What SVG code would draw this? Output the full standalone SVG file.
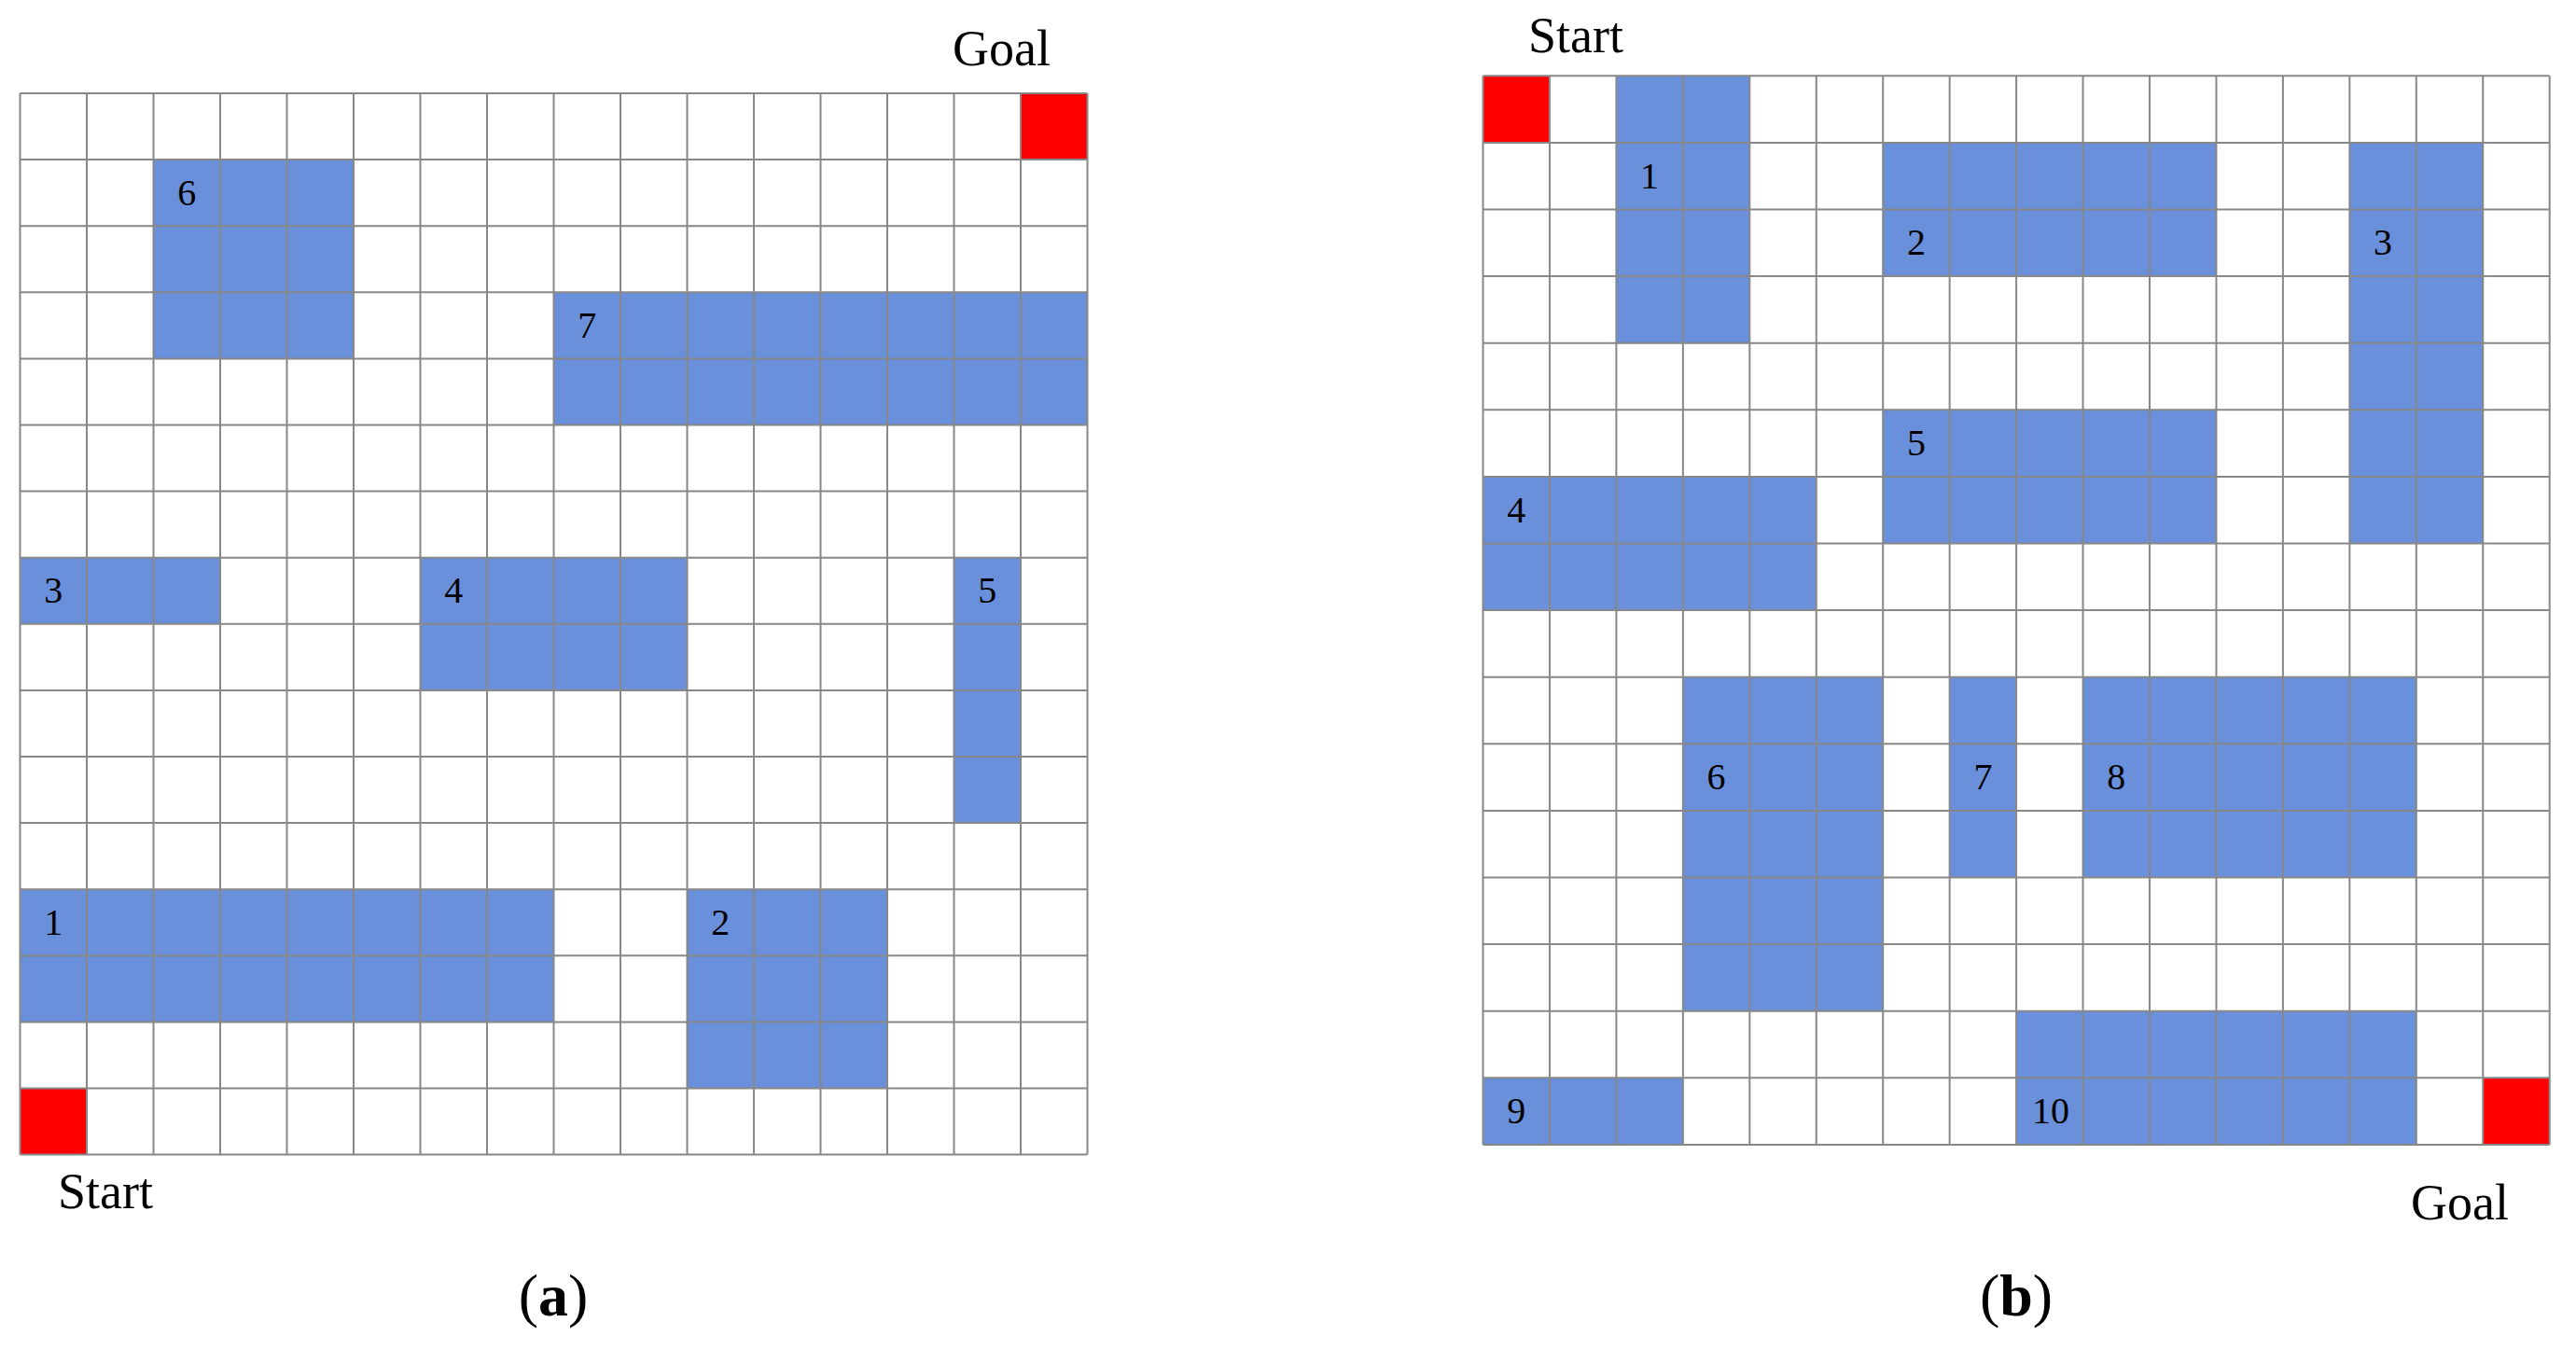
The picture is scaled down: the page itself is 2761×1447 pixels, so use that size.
<svg xmlns="http://www.w3.org/2000/svg" width="2761" height="1447" viewBox="0 0 2761 1447">
<style>
.obs{fill:#6A8FDB}
.red{fill:#FF0000}
.grid{fill:none;stroke:#888888;stroke-width:2}
.num{font-family:"Liberation Serif","Times New Roman",serif;font-size:40px;fill:#000;text-anchor:middle}
.lbl{font-family:"Liberation Serif","Times New Roman",serif;font-size:54px;fill:#000;text-anchor:middle}
.cap{font-family:"Liberation Serif","Times New Roman",serif;font-size:64px;fill:#000;text-anchor:middle}
</style>
<rect width="2761" height="1447" fill="#FFFFFF"/>

<g id="panel-a">
  <g id="a-goal"><rect class="red" x="1094" y="100" width="71.5" height="71.1"/></g>
  <g id="a-start"><rect class="red" x="21.5" y="1166.5" width="71.5" height="71.1"/></g>
  <g id="a-obs6"><rect class="obs" x="164.5" y="171.1" width="214.5" height="213.3"/></g>
  <g id="a-obs7"><rect class="obs" x="593.5" y="313.3" width="572" height="142.2"/></g>
  <g id="a-obs3"><rect class="obs" x="21.5" y="597.7" width="214.5" height="71.1"/></g>
  <g id="a-obs4"><rect class="obs" x="450.5" y="597.7" width="286" height="142.2"/></g>
  <g id="a-obs5"><rect class="obs" x="1022.5" y="597.7" width="71.5" height="284.4"/></g>
  <g id="a-obs1"><rect class="obs" x="21.5" y="953.2" width="572" height="142.2"/></g>
  <g id="a-obs2"><rect class="obs" x="736.5" y="953.2" width="214.5" height="213.3"/></g>
  <g id="a-grid">
    <path class="grid" d="M21.5 100V1237.6M93 100V1237.6M164.5 100V1237.6M236 100V1237.6M307.5 100V1237.6M379 100V1237.6M450.5 100V1237.6M522 100V1237.6M593.5 100V1237.6M665 100V1237.6M736.5 100V1237.6M808 100V1237.6M879.5 100V1237.6M951 100V1237.6M1022.5 100V1237.6M1094 100V1237.6M1165.5 100V1237.6"/>
    <path class="grid" d="M21.5 100H1165.5M21.5 171.1H1165.5M21.5 242.2H1165.5M21.5 313.3H1165.5M21.5 384.4H1165.5M21.5 455.5H1165.5M21.5 526.6H1165.5M21.5 597.7H1165.5M21.5 668.8H1165.5M21.5 739.9H1165.5M21.5 811H1165.5M21.5 882.1H1165.5M21.5 953.2H1165.5M21.5 1024.3H1165.5M21.5 1095.4H1165.5M21.5 1166.5H1165.5M21.5 1237.6H1165.5"/>
  </g>
  <g id="a-numbers">
    <text class="num" x="200.3" y="220">6</text>
    <text class="num" x="629.3" y="362">7</text>
    <text class="num" x="57.3" y="646">3</text>
    <text class="num" x="486.3" y="646">4</text>
    <text class="num" x="1058.3" y="646">5</text>
    <text class="num" x="57.3" y="1002">1</text>
    <text class="num" x="772.3" y="1002">2</text>
  </g>
  <g id="a-labels">
    <text class="lbl" x="1073.5" y="70">Goal</text>
    <text class="lbl" x="113" y="1295">Start</text>
    <text class="cap" x="593" y="1410">(<tspan font-weight="bold">a</tspan>)</text>
  </g>
</g>

<g id="panel-b">
  <g id="b-start"><rect class="red" x="1589.5" y="81.3" width="71.45" height="71.6"/></g>
  <g id="b-goal"><rect class="red" x="2661.25" y="1155.3" width="71.45" height="71.6"/></g>
  <g id="b-obs1"><rect class="obs" x="1732.4" y="81.3" width="142.9" height="286.4"/></g>
  <g id="b-obs2"><rect class="obs" x="2018.2" y="152.9" width="357.25" height="143.2"/></g>
  <g id="b-obs3"><rect class="obs" x="2518.35" y="152.9" width="142.9" height="429.6"/></g>
  <g id="b-obs5"><rect class="obs" x="2018.2" y="439.3" width="357.25" height="143.2"/></g>
  <g id="b-obs4"><rect class="obs" x="1589.5" y="510.9" width="357.25" height="143.2"/></g>
  <g id="b-obs6"><rect class="obs" x="1803.85" y="725.7" width="214.35" height="358"/></g>
  <g id="b-obs7"><rect class="obs" x="2089.65" y="725.7" width="71.45" height="214.8"/></g>
  <g id="b-obs8"><rect class="obs" x="2232.55" y="725.7" width="357.25" height="214.8"/></g>
  <g id="b-obs9"><rect class="obs" x="1589.5" y="1155.3" width="214.35" height="71.6"/></g>
  <g id="b-obs10"><rect class="obs" x="2161.1" y="1083.7" width="428.7" height="143.2"/></g>
  <g id="b-grid">
    <path class="grid" d="M1589.5 81.3V1226.9M1660.95 81.3V1226.9M1732.4 81.3V1226.9M1803.85 81.3V1226.9M1875.3 81.3V1226.9M1946.75 81.3V1226.9M2018.2 81.3V1226.9M2089.65 81.3V1226.9M2161.1 81.3V1226.9M2232.55 81.3V1226.9M2304 81.3V1226.9M2375.45 81.3V1226.9M2446.9 81.3V1226.9M2518.35 81.3V1226.9M2589.8 81.3V1226.9M2661.25 81.3V1226.9M2732.7 81.3V1226.9"/>
    <path class="grid" d="M1589.5 81.3H2732.7M1589.5 152.9H2732.7M1589.5 224.5H2732.7M1589.5 296.1H2732.7M1589.5 367.7H2732.7M1589.5 439.3H2732.7M1589.5 510.9H2732.7M1589.5 582.5H2732.7M1589.5 654.1H2732.7M1589.5 725.7H2732.7M1589.5 797.3H2732.7M1589.5 868.9H2732.7M1589.5 940.5H2732.7M1589.5 1012.1H2732.7M1589.5 1083.7H2732.7M1589.5 1155.3H2732.7M1589.5 1226.9H2732.7"/>
  </g>
  <g id="b-numbers">
    <text class="num" x="1768.1" y="201.7">1</text>
    <text class="num" x="2053.9" y="273.3">2</text>
    <text class="num" x="2554.1" y="273.3">3</text>
    <text class="num" x="2053.9" y="488.1">5</text>
    <text class="num" x="1625.2" y="559.7">4</text>
    <text class="num" x="1839.6" y="846.1">6</text>
    <text class="num" x="2125.4" y="846.1">7</text>
    <text class="num" x="2268.3" y="846.1">8</text>
    <text class="num" x="1625.2" y="1204.1">9</text>
    <text class="num" x="2198" y="1204.1">10</text>
  </g>
  <g id="b-labels">
    <text class="lbl" x="1689" y="56">Start</text>
    <text class="lbl" x="2636.5" y="1307">Goal</text>
    <text class="cap" x="2161" y="1410">(<tspan font-weight="bold">b</tspan>)</text>
  </g>
</g>
</svg>
